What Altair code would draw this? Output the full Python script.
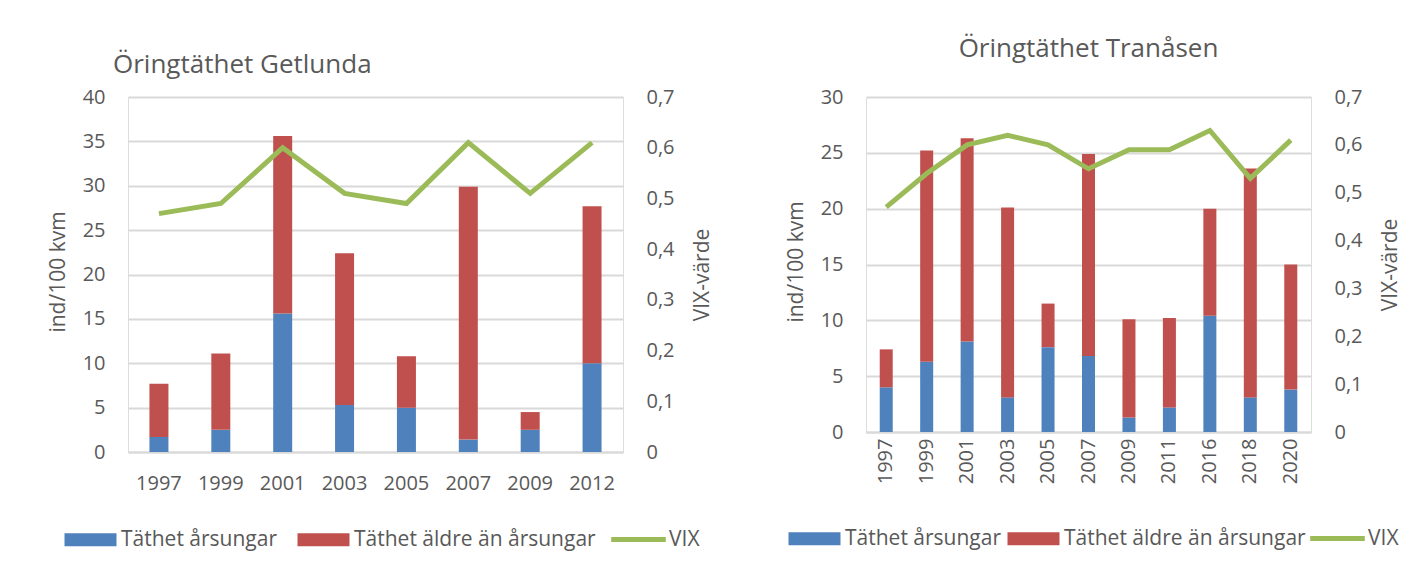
import altair as alt
import pandas as pd

# ---- data ----
G_YEARS = ["1997", "1999", "2001", "2003", "2005", "2007", "2009", "2012"]
G_YOUNG = [1.7, 2.5, 15.6, 5.3, 5.0, 1.4, 2.5, 10.0]
G_OLDER = [6.0, 8.6, 20.0, 17.1, 5.8, 28.5, 2.0, 17.7]
G_VIX = [0.47, 0.49, 0.60, 0.51, 0.49, 0.61, 0.51, 0.61]

T_YEARS = ["1997", "1999", "2001", "2003", "2005", "2007", "2009", "2011", "2016", "2018", "2020"]
T_YOUNG = [4.0, 6.3, 8.1, 3.1, 7.6, 6.8, 1.3, 2.2, 10.4, 3.1, 3.8]
T_OLDER = [3.4, 18.9, 18.2, 17.0, 3.9, 18.1, 8.8, 8.0, 9.6, 20.5, 11.2]
T_VIX = [0.47, 0.54, 0.60, 0.62, 0.60, 0.55, 0.59, 0.59, 0.63, 0.53, 0.61]

SERIES = ["Täthet årsungar", "Täthet äldre än årsungar"]
LINE_NAME = "VIX"
LEFT_TITLE = "ind/100 kvm"
RIGHT_TITLE = "VIX-värde"

BLUE, RED, GREEN = "#4F81BD", "#C0504D", "#9BBB59"
TXT = "#595959"
GRID = "#D9D9D9"
FONT = "Open Sans"

DEC = "datum.value == 0 ? '0' : replace(format(datum.value, '.1f'), '.', ',')"


def panel(title, years, young, older, vix, ymax, ystep, w, h, bar_w, label_angle, xpad,
          title_params, leg_x, leg_line_x, leg_y, col_pad):
    n = len(years)
    bars_df = pd.DataFrame({
        "year": years * 2,
        "value": young + older,
        "series": [SERIES[0]] * n + [SERIES[1]] * n,
        "ord": [0] * n + [1] * n,
    })
    line_df = pd.DataFrame({"year": years, "vix": vix, "name": [LINE_NAME] * n})

    x_enc = alt.X(
        "year:N", sort=years, title=None,
        scale=alt.Scale(paddingInner=0, paddingOuter=0),
        axis=alt.Axis(labelAngle=label_angle, labelFontSize=20, labelColor=TXT, labelFont=FONT,
                      domain=True, domainColor=GRID, domainWidth=2, ticks=False,
                      labelPadding=xpad, grid=False),
    )

    bars = alt.Chart(bars_df).mark_bar(size=bar_w).encode(
        x=x_enc,
        y=alt.Y("value:Q", stack="zero", title=LEFT_TITLE,
                scale=alt.Scale(domain=[0, ymax], nice=False),
                axis=alt.Axis(values=list(range(0, ymax + 1, ystep)), grid=True, gridColor=GRID,
                              gridWidth=2, domain=False, ticks=False, labelFontSize=20,
                              labelColor=TXT, labelFont=FONT, labelPadding=23,
                              titleFontSize=21, titleColor=TXT, titleFont=FONT,
                              titleFontWeight="normal", titleAngle=270, titleBaseline="middle",
                              titleX=-70, titleY=h / 2 - 3)),
        color=alt.Color("series:N", scale=alt.Scale(domain=SERIES, range=[BLUE, RED]),
                        legend=alt.Legend(
                            title=None, orient="none", legendX=leg_x, legendY=leg_y,
                            direction="horizontal",
                            symbolType="M-4,-1H4V1H-4Z", symbolSize=169,
                            symbolStrokeWidth=0, labelFontSize=21, labelColor=TXT,
                            labelFont=FONT, labelOffset=20, columnPadding=col_pad,
                            labelLimit=400)),
        order=alt.Order("ord:Q", sort="ascending"),
    )

    line = alt.Chart(line_df).mark_line(strokeWidth=5).encode(
        x=alt.X("year:N", sort=years),
        y=alt.Y("vix:Q", title=RIGHT_TITLE,
                scale=alt.Scale(domain=[0, 0.7], nice=False),
                axis=alt.Axis(orient="right", values=[0, 0.1, 0.2, 0.3, 0.4, 0.5, 0.6, 0.7],
                              labelExpr=DEC, grid=False, domain=False, ticks=False,
                              labelFontSize=20, labelColor=TXT, labelFont=FONT, labelPadding=23,
                              titleFontSize=21, titleColor=TXT, titleFont=FONT,
                              titleFontWeight="normal", titleAngle=270, titleBaseline="middle",
                              titleX=79, titleY=h / 2)),
        stroke=alt.Stroke("name:N", scale=alt.Scale(domain=[LINE_NAME], range=[GREEN]),
                          legend=alt.Legend(
                              title=None, orient="none", legendX=leg_line_x, legendY=leg_y,
                              direction="horizontal", symbolType="M-4.2,0H4.2",
                              symbolSize=169, symbolStrokeWidth=5, labelFontSize=21,
                              labelColor=TXT, labelFont=FONT, labelOffset=20,
                              labelLimit=200)),
    )

    return alt.layer(bars, line).resolve_scale(y="independent").properties(
        width=w, height=h, title=alt.TitleParams(title, font=FONT, fontSize=26, frame="group",
                                                 fontWeight="normal", color=TXT, **title_params)
    )


left = panel("Öringtäthet Getlunda", G_YEARS, G_YOUNG, G_OLDER, G_VIX, 40, 5,
             495, 355, 19, 0, 21, dict(anchor="start", dx=-15, offset=9),
             -48, 500, 432, 19)
right = panel("Öringtäthet Tranåsen", T_YEARS, T_YOUNG, T_OLDER, T_VIX, 30, 5,
              445, 335, 13, 270, 6, dict(anchor="middle", offset=25),
              -62, 461, 431, 5)

chart = alt.hconcat(left, right, spacing=243, bounds="flush").resolve_scale(
    x="independent", y="independent", color="independent", stroke="independent"
).resolve_legend(color="independent", stroke="independent").properties(
    padding={"left": 38, "top": 27, "right": 5, "bottom": 5}
).configure_view(stroke=None).configure(background="white")

chart.save("out.html", embed_options={"renderer": "svg", "actions": False})
